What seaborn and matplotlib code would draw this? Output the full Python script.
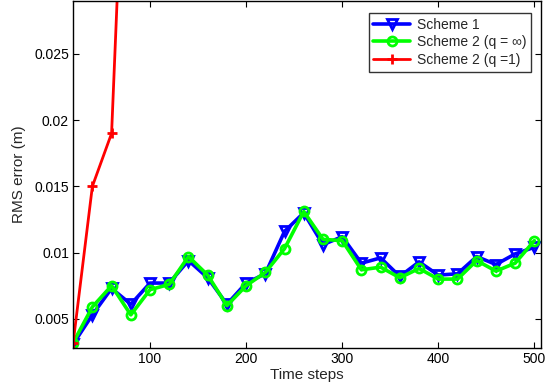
import numpy as np
import pandas as pd
import matplotlib
matplotlib.use("Agg")
import matplotlib.pyplot as plt
import seaborn as sns

# Time steps sampled every 20 steps
steps = list(range(20, 501, 20))

# RMS error (m) per scheme
scheme1 = [0.0031, 0.0053, 0.0073, 0.0061, 0.0077, 0.0077, 0.0094, 0.0081, 0.0061, 0.0077,
           0.0084, 0.0116, 0.0130, 0.0106, 0.0112, 0.0092, 0.0096, 0.0082, 0.0093, 0.0083,
           0.0084, 0.0097, 0.0091, 0.0099, 0.0104]
scheme2_inf = [0.0032, 0.0059, 0.0075, 0.0053, 0.0072, 0.0076, 0.0097, 0.0083, 0.0060, 0.0075,
               0.0085, 0.0103, 0.0131, 0.0110, 0.0109, 0.0087, 0.0089, 0.0081, 0.0088, 0.0080,
               0.0080, 0.0094, 0.0086, 0.0092, 0.0109]
steps_q1 = [20, 40, 60, 80]
scheme2_q1 = [0.0032, 0.0150, 0.0190, 0.0540]

labels = ["Scheme 1", "Scheme 2 (q = \u221e)", "Scheme 2 (q =1)"]

df = pd.concat([
    pd.DataFrame({"step": steps, "rms": scheme1, "series": labels[0]}),
    pd.DataFrame({"step": steps, "rms": scheme2_inf, "series": labels[1]}),
    pd.DataFrame({"step": steps_q1, "rms": scheme2_q1, "series": labels[2]}),
])

sns.set_theme(style="white")
plt.rcParams["font.family"] = ["Liberation Sans", "DejaVu Sans"]

fig = plt.figure(figsize=(5.46, 3.91), dpi=100)
ax = fig.add_axes([0.134, 0.11, 0.857, 0.888])

styles = {
    labels[0]: dict(color="#0000ff", marker="v", markersize=7, linewidth=2.6,
                    markerfacecolor="none", markeredgecolor="#0000ff", markeredgewidth=2.0),
    labels[1]: dict(color="#00ff00", marker="o", markersize=6.5, linewidth=2.6,
                    markerfacecolor="none", markeredgecolor="#00ff00", markeredgewidth=2.0),
    labels[2]: dict(color="#ff0000", marker="+", markersize=7, linewidth=2.0,
                    markeredgecolor="#ff0000", markeredgewidth=2.0),
}

for name in labels:
    sub = df[df["series"] == name]
    sns.lineplot(data=sub, x="step", y="rms", ax=ax, label=name, **styles[name])

ax.set_xlim(20, 507)
ax.set_ylim(0.0028, 0.029)
ax.set_xticks([100, 200, 300, 400, 500])
ax.set_yticks([0.005, 0.01, 0.015, 0.02, 0.025])
ax.set_yticklabels(["0.005", "0.01", "0.015", "0.02", "0.025"])
ax.set_xlabel("Time steps", fontsize=11, labelpad=1)
ax.set_ylabel("RMS error (m)", fontsize=11, labelpad=6)

ax.tick_params(direction="in", length=4, width=0.8, labelsize=10, colors="black",
               top=True, right=True, bottom=True, left=True, pad=3)
for sp in ax.spines.values():
    sp.set_color("black")
    sp.set_linewidth(1.0)

leg = ax.legend(loc="upper right", fontsize=10, frameon=True, fancybox=False,
                handlelength=2.6, handletextpad=0.5, borderpad=0.35, labelspacing=0.25,
                bbox_to_anchor=(0.993, 0.985))
leg.get_frame().set_edgecolor("black")
leg.get_frame().set_linewidth(1.0)

fig.savefig("out.png", dpi=100)
